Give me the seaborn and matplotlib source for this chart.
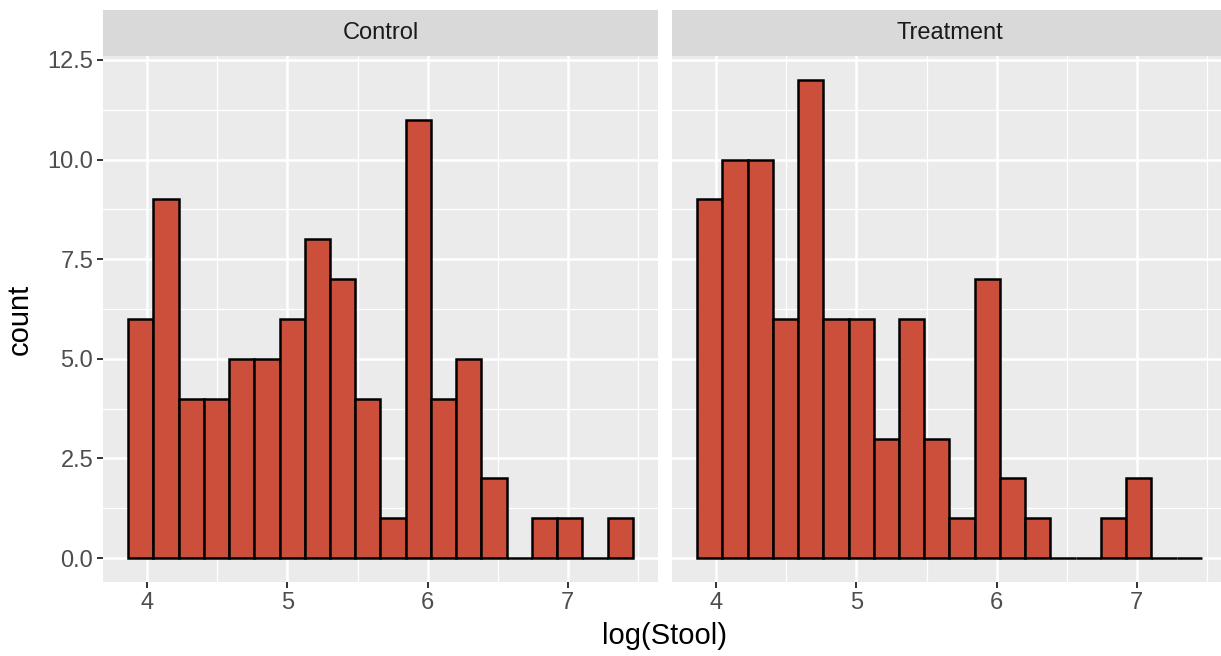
import numpy as np
import pandas as pd
import matplotlib
matplotlib.use("Agg")
import matplotlib.pyplot as plt
import seaborn as sns
from matplotlib.patches import Rectangle
from matplotlib.ticker import MultipleLocator

# ======================================
# DATA (binned counts)
# ======================================

groups = ["Control", "Treatment"]

bin_start = 3.864
bin_width = 0.18
n_bins = 20

control_counts = [6, 9, 4, 4, 5, 5, 6, 8, 7, 4, 1, 11, 4, 5, 2, 0, 1, 1, 0, 1]
treatment_counts = [9, 10, 10, 6, 12, 6, 6, 3, 6, 3, 1, 7, 2, 1, 0, 0, 1, 2, 0, 0]

x_ticks = [4, 5, 6, 7]
y_ticks = [0, 2.5, 5, 7.5, 10, 12.5]
y_tick_labels = ["0.0", "2.5", "5.0", "7.5", "10.0", "12.5"]

edges = [float(e) for e in bin_start + bin_width * np.arange(n_bins + 1)]
mids = [e + bin_width / 2 for e in edges[:-1]]

df = pd.DataFrame({
    "group": np.repeat(groups, n_bins),
    "mid": mids * 2,
    "count": control_counts + treatment_counts,
})

# ======================================
# STYLE
# ======================================

sns.set_style("white")
plt.rcParams["font.family"] = ["Liberation Sans", "DejaVu Sans"]

fill = "#CC4F3C"
panel_bg = "#EBEBEB"
strip_bg = "#D9D9D9"

W, H = 1221, 656
fig = plt.figure(figsize=(W / 100, H / 100), dpi=100)

# panel boxes in pixels (left, right); right panel runs slightly past the edge
panel_x = [(103, 658), (672, 1227)]
panel_top, panel_bottom = 56, 582
strip_px = 46

axes = []
for x0, x1 in panel_x:
    axes.append(fig.add_axes([x0 / W, 1 - panel_bottom / H,
                              (x1 - x0) / W, (panel_bottom - panel_top) / H]))

pad = 0.05 * (edges[-1] - edges[0])
ymax = max(max(control_counts), max(treatment_counts))

for i, (ax, name) in enumerate(zip(axes, groups)):
    sub = df[df["group"] == name]
    sns.histplot(
        data=sub,
        x="mid",
        weights="count",
        bins=edges,
        color=fill,
        edgecolor="black",
        linewidth=1.8,
        alpha=1,
        ax=ax,
    )
    ax.set_facecolor(panel_bg)
    for s in ax.spines.values():
        s.set_visible(False)
    ax.set_xlim(edges[0] - pad, edges[-1] + pad)
    ax.set_ylim(-0.05 * ymax, ymax * 1.05)
    ax.set_xticks(x_ticks)
    ax.set_xticklabels([str(t) for t in x_ticks])
    ax.set_yticks(y_ticks)
    ax.xaxis.set_minor_locator(MultipleLocator(0.5))
    ax.yaxis.set_minor_locator(MultipleLocator(1.25))
    ax.grid(which="major", color="white", linewidth=1.8)
    ax.grid(which="minor", color="white", linewidth=0.9)
    ax.set_axisbelow(True)
    ax.tick_params(which="minor", length=0)
    ax.tick_params(axis="x", which="major", length=4.5, width=1.4, color="#333333",
                   labelsize=17, labelcolor="#4D4D4D", pad=2.5, bottom=True)
    if i == 0:
        ax.set_yticklabels(y_tick_labels)
        ax.tick_params(axis="y", which="major", length=4.5, width=1.4, color="#333333",
                       labelsize=17, labelcolor="#4D4D4D", pad=2.5, left=True)
    else:
        ax.tick_params(axis="y", which="both", length=0, labelleft=False)
    ax.set_xlabel("")
    ax.set_ylabel("")

    # facet strip
    strip_h = strip_px / (panel_bottom - panel_top)
    ax.add_patch(Rectangle((0, 1), 1, strip_h, transform=ax.transAxes,
                           facecolor=strip_bg, edgecolor="none", clip_on=False))
    ax.text(0.5, 1 + strip_h / 2, name, transform=ax.transAxes, ha="center",
            va="center", fontsize=17, color="#1A1A1A")

fig.text(665 / W, 0.030, "log(Stool)", ha="center", va="center", fontsize=21, color="black")
fig.text(20 / W, 1 - 319 / H, "count", ha="center", va="center", rotation=90, fontsize=21,
         color="black")

fig.savefig("out.png", dpi=100)
